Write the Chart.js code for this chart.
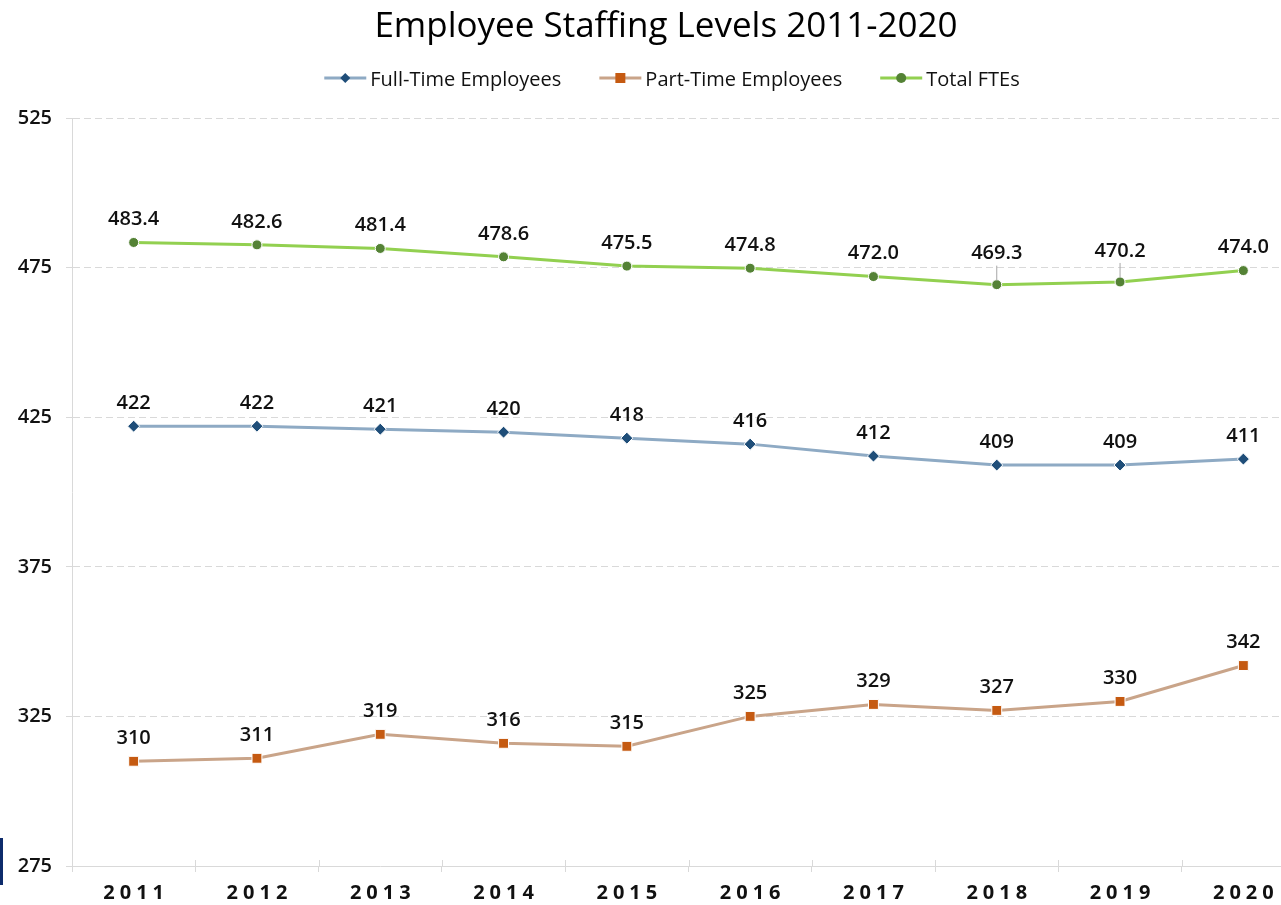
<!DOCTYPE html>
<html>
<head>
<meta charset="utf-8">
<title>Employee Staffing Levels 2011-2020</title>
<script src="https://cdn.jsdelivr.net/npm/chart.js@4.4.0/dist/chart.umd.min.js"></script>
<style>
  html, body { margin: 0; padding: 0; background: #fff; overflow: hidden; }
  #wrap { position: relative; width: 1281px; height: 905px; overflow: hidden; }
  #staffing { display: block; }
  .edge-mark { position: absolute; left: 0; top: 838px; width: 3px; height: 47px; background: #0d2b6b; }
</style>
</head>
<body>
<div id="wrap">
  <canvas id="staffing" width="1305" height="905"></canvas>
  <div class="edge-mark"></div>
</div>
<script>
const years = ['2011', '2012', '2013', '2014', '2015', '2016', '2017', '2018', '2019', '2020'];
const fullTime = [422, 422, 421, 420, 418, 416, 412, 409, 409, 411];
const partTime = [310, 311, 319, 316, 315, 325, 329, 327, 330, 342];
const totalFte = [483.4, 482.6, 481.4, 478.6, 475.5, 474.8, 472.0, 469.3, 470.2, 474.0];
const yTicks = [275, 325, 375, 425, 475, 525];

const FONT = "'Open Sans', 'Liberation Sans', sans-serif";
const GRID = '#d9d9d9';
const INK = '#111';

const series = [
  { label: 'Full-Time Employees', data: fullTime, line: '#8eaac4', mark: '#1f4e79', shape: 'diamond' },
  { label: 'Part-Time Employees', data: partTime, line: '#c9a489', mark: '#c55a11', shape: 'square' },
  { label: 'Total FTEs', data: totalFte, line: '#92d050', mark: '#548235', shape: 'circle' },
];

function drawMark(g, shape, x, y) {
  g.beginPath();
  if (shape === 'diamond') {
    g.moveTo(x, y - 5); g.lineTo(x + 5, y); g.lineTo(x, y + 5); g.lineTo(x - 5, y); g.closePath();
  } else if (shape === 'square') {
    g.rect(x - 5, y - 5, 10, 10);
  } else {
    g.arc(x, y, 5, 0, Math.PI * 2);
  }
  g.fill();
}

// title and the line-plus-marker legend across the top
const header = {
  id: 'header',
  afterDraw(chart, args, opts) {
    const ctx = chart.ctx;
    ctx.save();
    ctx.fillStyle = '#000';
    ctx.textAlign = 'center';
    ctx.textBaseline = 'alphabetic';
    ctx.font = `35px ${FONT}`;
    ctx.fillText(opts.title, opts.titleX, 37);

    ctx.font = `20px ${FONT}`;
    const swatchW = 42, textGap = 4, itemGap = 38;
    const widths = series.map((s) => ctx.measureText(s.label).width);
    const total = widths.reduce((a, w) => a + swatchW + textGap + w, 0) + itemGap * (series.length - 1);
    let x = opts.legendX - total / 2;
    const ly = 78;
    ctx.textAlign = 'left';
    series.forEach((s, i) => {
      ctx.strokeStyle = s.line;
      ctx.lineWidth = 3;
      ctx.beginPath();
      ctx.moveTo(x, ly);
      ctx.lineTo(x + swatchW, ly);
      ctx.stroke();
      ctx.fillStyle = s.mark;
      drawMark(ctx, s.shape, x + swatchW / 2, ly);
      ctx.fillStyle = INK;
      ctx.fillText(s.label, x + swatchW + textGap, 86);
      x += swatchW + textGap + widths[i] + itemGap;
    });
    ctx.restore();
  }
};

// value labels above each point, with a short leader where the label is lifted further
const valueLabels = {
  id: 'valueLabels',
  afterDatasetsDraw(chart, args, opts) {
    const ctx = chart.ctx;
    ctx.save();
    ctx.font = `600 20px ${FONT}`;
    ctx.fillStyle = INK;
    ctx.textAlign = 'center';
    ctx.textBaseline = 'middle';
    chart.data.datasets.forEach((ds, di) => {
      const meta = chart.getDatasetMeta(di);
      const leaders = opts.leaders[di] || [];
      meta.data.forEach((pt, i) => {
        const v = ds.data[i];
        const text = di === 2 ? v.toFixed(1) : String(v);
        const lifted = leaders.includes(i);
        const ty = pt.y - (lifted ? opts.leaderLift : opts.lift);
        if (lifted) {
          ctx.strokeStyle = '#a6a6a6';
          ctx.lineWidth = 1;
          ctx.beginPath();
          ctx.moveTo(pt.x, ty + 12);
          ctx.lineTo(pt.x, pt.y - 4);
          ctx.stroke();
        }
        ctx.fillText(text, pt.x, ty);
      });
    });
    ctx.restore();
  }
};

// spaced-out year labels and the small cross ticks on the category axis
const yearAxis = {
  id: 'yearAxis',
  afterDraw(chart) {
    const ctx = chart.ctx;
    const x = chart.scales.x;
    const bottom = chart.chartArea.bottom;
    const step = x.getPixelForValue(1) - x.getPixelForValue(0);
    ctx.save();
    ctx.strokeStyle = GRID;
    ctx.lineWidth = 1;
    for (let i = 0; i <= years.length; i++) {
      const bx = Math.round(x.getPixelForValue(i) - step / 2) + 0.5;
      ctx.beginPath();
      ctx.moveTo(bx, bottom - 6);
      ctx.lineTo(bx, bottom);
      ctx.stroke();
    }
    ctx.font = `bold 20px ${FONT}`;
    ctx.fillStyle = INK;
    ctx.textAlign = 'center';
    ctx.textBaseline = 'middle';
    ctx.letterSpacing = '5px';
    years.forEach((y, i) => {
      ctx.fillText(y, x.getPixelForValue(i) + 2.5, 893);
    });
    ctx.restore();
  }
};

new Chart(document.getElementById('staffing'), {
  type: 'line',
  data: {
    labels: years,
    datasets: series.map((s) => ({
      label: s.label,
      data: s.data,
      borderColor: s.line,
      borderWidth: 3,
      pointStyle: s.shape === 'diamond' ? 'rectRot' : s.shape === 'square' ? 'rect' : 'circle',
      pointRadius: s.shape === 'square' ? 7 : s.shape === 'diamond' ? 6 : 5,
      pointBackgroundColor: s.mark,
      pointBorderColor: '#fff',
      pointBorderWidth: 1,
    })),
  },
  options: {
    responsive: false,
    animation: false,
    layout: { autoPadding: false, padding: { left: 0, top: 118, right: 0, bottom: 33 } },
    plugins: {
      title: { display: false },
      legend: { display: false },
      tooltip: { enabled: false },
      header: { title: 'Employee Staffing Levels 2011-2020', titleX: 666, legendX: 672 },
      valueLabels: { lift: 23, leaderLift: 31, leaders: { 2: [7, 8] } },
    },
    scales: {
      x: {
        offset: true,
        grid: { offset: true, drawOnChartArea: false, tickLength: 6, color: GRID },
        border: { color: GRID, width: 1 },
        ticks: { display: false },
      },
      y: {
        min: yTicks[0],
        max: yTicks[yTicks.length - 1],
        afterFit: (s) => { s.width = 72; },
        afterBuildTicks: (s) => { s.ticks = yTicks.map((v) => ({ value: v })); },
        grid: { color: GRID, tickLength: 6 },
        border: { color: GRID, width: 1, dash: [7, 4] },
        ticks: { color: INK, font: { family: FONT, size: 20, weight: '600' }, padding: 14 },
      },
    },
  },
  plugins: [header, valueLabels, yearAxis],
});
</script>
</body>
</html>
